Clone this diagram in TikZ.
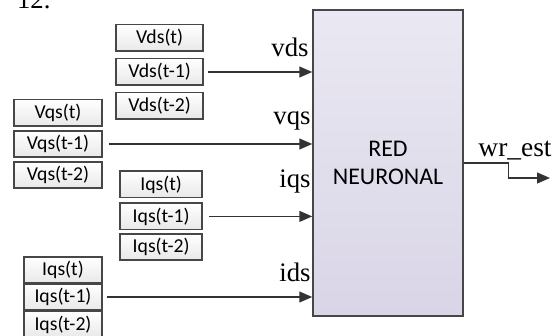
\documentclass[tikz,border=0pt]{standalone}
\usepackage{fontspec}
\setmainfont{Liberation Serif}
\newfontfamily\boxfont{Carlito}
\usetikzlibrary{arrows.meta}
\definecolor{redtop}{HTML}{EAE8F2}
\definecolor{redbot}{HTML}{D9D5E7}

\begin{document}
\begin{tikzpicture}[
            inbox/.style={draw=black!72, line width=1pt, top color=white, bottom color=black!9,
                minimum height=0.66cm, inner sep=0pt, font=\boxfont\fontsize{14}{14}\selectfont},
            feed/.style={draw=black!80, line width=1pt, -{Triangle[length=0.32cm,width=0.27cm]}},
            inlabel/.style={inner sep=0pt, anchor=base east, font=\fontsize{19}{19}\selectfont}
        ]
            \useasboundingbox (0,0) rectangle (14,8.4);
            \node[anchor=base west, inner sep=0pt, font=\fontsize{19}{19}\selectfont] (num) at (0.42,8.18) {12.};

            % neural network block
            \node[draw=black!72, line width=1.1pt, top color=redtop, bottom color=redbot,
                minimum width=3.75cm, minimum height=7.65cm, inner sep=0pt, align=center,
                font=\boxfont\fontsize{17}{20}\selectfont] (red) at (9.7,4.325) {RED\\NEURONAL};

            % vds inputs
            \node[inbox, minimum width=2.175cm] (vds0) at (3.99,7.45) {Vds(t)};
            \node[inbox, minimum width=2.175cm] (vds1) at (3.99,6.6) {Vds(t-1)};
            \node[inbox, minimum width=2.175cm] (vds2) at (3.99,5.76) {Vds(t-2)};
            \draw[feed] ([xshift=0.1cm]vds1.east) -- (vds1.east -| red.west);
            \node[inlabel] (lvds) at (7.72,6.975) {vds};

            % vqs inputs
            \node[inbox, minimum width=2.2cm] (vqs0) at (1.45,5.575) {Vqs(t)};
            \node[inbox, minimum width=2.2cm] (vqs1) at (1.45,4.8) {Vqs(t-1)};
            \node[inbox, minimum width=2.2cm] (vqs2) at (1.45,4.025) {Vqs(t-2)};
            \draw[feed] ([xshift=0.15cm]vqs1.east) -- (vqs1.east -| red.west);
            \node[inlabel] (lvqs) at (7.77,5.275) {vqs};

            % iqs inputs
            \node[inbox, minimum width=2.05cm] (iqs0) at (4.03,3.79) {Iqs(t)};
            \node[inbox, minimum width=2.05cm] (iqs1) at (4.03,2.99) {Iqs(t-1)};
            \node[inbox, minimum width=2.05cm] (iqs2) at (4.03,2.225) {Iqs(t-2)};
            \draw[feed] ([xshift=0.15cm]iqs1.east) -- (iqs1.east -| red.west);
            \node[inlabel] (liqs) at (7.77,3.7) {iqs};

            % ids inputs
            \node[inbox, minimum width=1.95cm] (ids0) at (1.575,1.65) {Iqs(t)};
            \node[inbox, minimum width=1.95cm] (ids1) at (1.575,0.975) {Iqs(t-1)};
            \node[inbox, minimum width=1.95cm] (ids2) at (1.575,0.28) {Iqs(t-2)};
            \draw[feed] ([xshift=0.1cm]ids1.east) -- (ids1.east -| red.west);
            \node[inlabel] (lids) at (7.77,1.35) {ids};

            % output
            \coordinate (out) at (13.75,3.95);
            \draw[feed] (red.east) -- ++(1.125,0) |- (out);
            \node[anchor=base, inner sep=0pt, font=\fontsize{19.5}{19.5}\selectfont] (lwr) at (12.875,4.475) {wr\_est};
        \end{tikzpicture}
\end{document}
